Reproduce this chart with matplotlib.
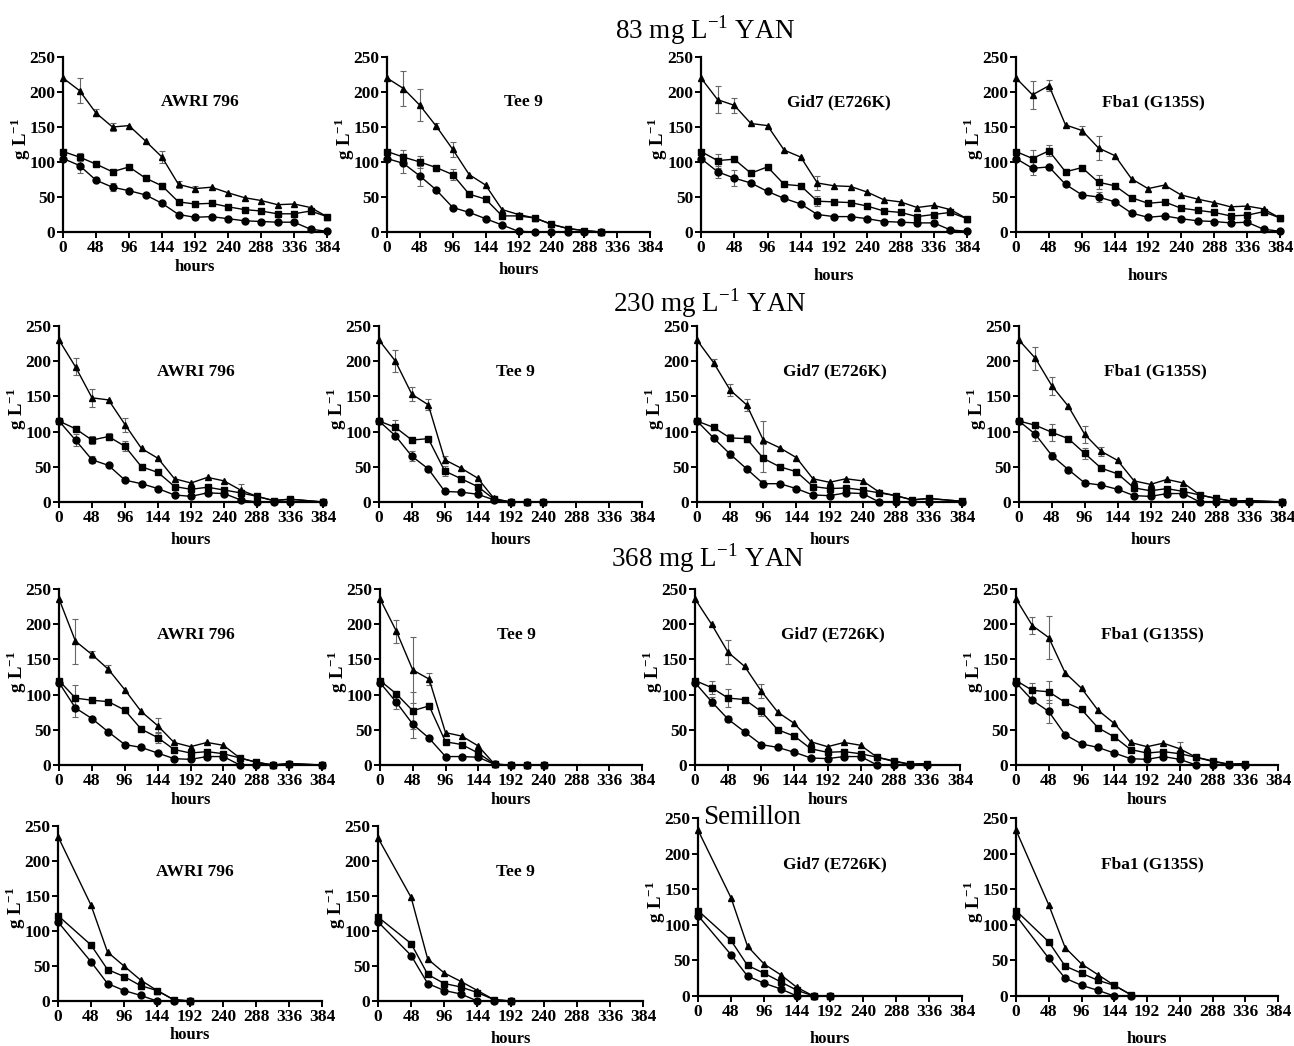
import matplotlib
matplotlib.use("Agg")
import matplotlib.pyplot as plt
import numpy as np

plt.rcParams['font.family'] = ['Liberation Serif', 'DejaVu Serif']
plt.rcParams['mathtext.fontset'] = 'custom'
plt.rcParams['mathtext.rm'] = 'Liberation Serif'
plt.rcParams['mathtext.bf'] = 'Liberation Serif:bold'

# ---------------- data ----------------
strains = ["AWRI 796", "Tee 9", "Gid7 (E726K)", "Fba1 (G135S)"]
sections = ["83 mg L$^{-1}$ YAN", "230 mg L$^{-1}$ YAN", "368 mg L$^{-1}$ YAN", "Semillon"]
xticks = [0, 48, 96, 144, 192, 240, 288, 336, 384]
yticks = [0, 50, 100, 150, 200, 250]

t_full = [0, 24, 48, 72, 96, 120, 144, 168, 192, 216, 240, 264, 288, 312, 336, 360, 384]

# --- 83 mg/L YAN ---
t83_awri = t_full
tri83_awri = [220, 202, 170, 150, 152, 130, 107, 68, 62, 64, 56, 49, 45, 39, 40, 35, 22]
sq83_awri = [115, 107, 97, 86, 93, 77, 66, 43, 40, 41, 36, 32, 30, 26, 26, 30, 22]
ci83_awri = [105, 95, 74, 64, 59, 53, 41, 25, 21, 22, 19, 16, 15, 14, 14, 4, 1]
etri83_awri = [0, 18, 5, 5, 0, 0, 9, 5, 4, 0, 0, 0, 0, 0, 0, 0, 0]
esq83_awri = [0, 6, 0, 0, 0, 0, 4, 0, 0, 0, 0, 0, 0, 0, 0, 0, 0]
eci83_awri = [0, 10, 0, 6, 0, 0, 0, 0, 0, 0, 0, 0, 0, 0, 0, 0, 0]

t83_tee = [0, 24, 48, 72, 96, 120, 144, 168, 192, 216, 240, 264, 288, 312]
tri83_tee = [220, 205, 181, 151, 118, 82, 67, 32, 25, 20, 11, 5, 2, 0]
sq83_tee = [115, 107, 100, 92, 82, 54, 47, 23, 23, 20, 11, 5, 2, 0]
ci83_tee = [105, 98, 80, 60, 35, 28, 19, 10, 1, 0, 0, 0, 0, 0]
etri83_tee = [0, 25, 23, 4, 11, 0, 0, 0, 0, 0, 0, 0, 0, 0]
esq83_tee = [0, 10, 8, 0, 8, 0, 0, 0, 0, 0, 0, 0, 0, 0]
eci83_tee = [0, 13, 14, 0, 0, 0, 0, 0, 0, 0, 0, 0, 0, 0]

t83_gid = t_full
tri83_gid = [220, 189, 181, 155, 152, 117, 107, 70, 66, 65, 57, 46, 43, 35, 38, 32, 19]
sq83_gid = [115, 102, 104, 84, 93, 68, 66, 44, 43, 42, 37, 30, 28, 22, 25, 28, 19]
ci83_gid = [105, 86, 77, 70, 58, 48, 40, 25, 22, 22, 19, 15, 14, 13, 13, 3, 1]
etri83_gid = [0, 19, 11, 0, 0, 0, 0, 10, 0, 0, 0, 0, 0, 0, 0, 0, 0]
esq83_gid = [0, 10, 0, 0, 0, 0, 0, 7, 0, 0, 0, 0, 0, 0, 0, 0, 0]
eci83_gid = [0, 9, 11, 0, 0, 0, 0, 0, 0, 0, 0, 0, 0, 0, 0, 0, 0]

t83_fba = t_full
tri83_fba = [220, 196, 209, 153, 145, 120, 109, 76, 62, 67, 53, 47, 42, 36, 37, 33, 20]
sq83_fba = [115, 105, 116, 86, 92, 71, 66, 49, 41, 43, 34, 31, 28, 23, 24, 29, 20]
ci83_fba = [105, 91, 93, 68, 53, 50, 43, 27, 21, 23, 19, 16, 15, 13, 14, 4, 1]
etri83_fba = [0, 20, 8, 0, 6, 17, 0, 0, 0, 0, 0, 0, 0, 0, 0, 0, 0]
esq83_fba = [0, 12, 8, 0, 0, 10, 0, 0, 0, 0, 0, 0, 0, 0, 0, 0, 0]
eci83_fba = [0, 10, 0, 0, 0, 7, 0, 0, 0, 0, 0, 0, 0, 0, 0, 0, 0]

# --- 230 mg/L YAN ---
t230_awri = [0, 24, 48, 72, 96, 120, 144, 168, 192, 216, 240, 264, 288, 312, 336, 384]
tri230_awri = [230, 192, 148, 145, 110, 76, 62, 33, 27, 35, 30, 17, 8, 2, 4, 0]
sq230_awri = [115, 104, 88, 93, 79, 50, 42, 22, 18, 21, 17, 13, 8, 2, 4, 0]
ci230_awri = [115, 88, 60, 52, 31, 26, 19, 10, 8, 13, 12, 3, 0, 0, 0, 0]
etri230_awri = [0, 12, 13, 0, 10, 0, 0, 0, 0, 0, 0, 8, 0, 0, 0, 0]
esq230_awri = [0, 0, 6, 5, 7, 0, 0, 0, 0, 0, 0, 0, 0, 0, 0, 0]
eci230_awri = [0, 9, 5, 0, 0, 0, 0, 0, 0, 0, 0, 0, 0, 0, 0, 0]

t230_tee = [0, 24, 48, 72, 96, 120, 144, 168, 192, 216, 240]
tri230_tee = [230, 200, 153, 138, 60, 48, 34, 5, 0, 0, 0]
sq230_tee = [115, 106, 88, 90, 44, 33, 22, 4, 0, 0, 0]
ci230_tee = [115, 94, 65, 47, 15, 14, 11, 3, 0, 0, 0]
etri230_tee = [0, 16, 10, 8, 5, 0, 0, 0, 0, 0, 0]
esq230_tee = [0, 10, 0, 0, 7, 0, 0, 0, 0, 0, 0]
eci230_tee = [0, 0, 7, 0, 0, 0, 0, 0, 0, 0, 0]

t230_gid = [0, 24, 48, 72, 96, 120, 144, 168, 192, 216, 240, 264, 288, 312, 336, 384]
tri230_gid = [230, 198, 159, 138, 88, 77, 63, 33, 28, 33, 30, 14, 9, 3, 5, 1]
sq230_gid = [115, 106, 91, 90, 62, 50, 43, 22, 19, 20, 17, 13, 9, 3, 5, 1]
ci230_gid = [115, 91, 68, 47, 26, 26, 19, 10, 9, 13, 12, 0, 0, 0, 0, 0]
etri230_gid = [0, 5, 9, 9, 27, 0, 0, 0, 0, 0, 0, 0, 0, 0, 0, 0]
esq230_gid = [0, 0, 5, 5, 20, 0, 0, 0, 0, 0, 0, 0, 0, 0, 0, 0]
eci230_gid = [0, 0, 5, 0, 5, 0, 0, 0, 0, 0, 0, 0, 0, 0, 0, 0]

t230_fba = [0, 24, 48, 72, 96, 120, 144, 168, 192, 216, 240, 264, 288, 312, 336, 384]
tri230_fba = [230, 204, 165, 136, 96, 72, 59, 30, 25, 32, 27, 10, 5, 1, 2, 0]
sq230_fba = [115, 109, 99, 90, 69, 48, 40, 20, 16, 19, 15, 10, 5, 1, 2, 0]
ci230_fba = [115, 96, 66, 46, 27, 24, 18, 9, 8, 12, 12, 0, 0, 0, 0, 0]
etri230_fba = [0, 16, 13, 0, 12, 6, 0, 0, 0, 0, 0, 0, 0, 0, 0, 0]
esq230_fba = [0, 0, 12, 0, 8, 0, 0, 0, 0, 0, 0, 0, 0, 0, 0, 0]
eci230_fba = [0, 10, 5, 0, 0, 0, 0, 0, 0, 0, 0, 0, 0, 0, 0, 0]

# --- 368 mg/L YAN ---
t368_awri = [0, 24, 48, 72, 96, 120, 144, 168, 192, 216, 240, 264, 288, 312, 336, 384]
tri368_awri = [236, 176, 157, 136, 107, 76, 56, 32, 26, 32, 28, 10, 4, 0, 2, 0]
sq368_awri = [120, 95, 92, 90, 78, 51, 39, 22, 17, 19, 16, 10, 4, 0, 2, 0]
ci368_awri = [117, 81, 66, 47, 29, 25, 17, 9, 8, 12, 12, 0, 0, 0, 1, 0]
etri368_awri = [0, 32, 5, 6, 0, 0, 11, 0, 0, 0, 0, 0, 0, 0, 0, 0]
esq368_awri = [0, 18, 0, 0, 0, 0, 8, 0, 0, 0, 0, 0, 0, 0, 0, 0]
eci368_awri = [0, 13, 0, 0, 0, 0, 0, 0, 0, 0, 0, 0, 0, 0, 0, 0]

t368_tee = [0, 24, 48, 72, 96, 120, 144, 168, 192, 216, 240]
tri368_tee = [236, 190, 135, 122, 46, 41, 27, 1, 0, 0, 0]
sq368_tee = [120, 101, 77, 84, 33, 29, 17, 1, 0, 0, 0]
ci368_tee = [117, 89, 58, 38, 12, 12, 11, 1, 0, 0, 0]
etri368_tee = [0, 16, 47, 8, 0, 0, 0, 0, 0, 0, 0]
esq368_tee = [0, 0, 26, 4, 0, 0, 0, 0, 0, 0, 0]
eci368_tee = [0, 10, 19, 0, 0, 0, 0, 0, 0, 0, 0]

t368_gid = [0, 24, 48, 72, 96, 120, 144, 168, 192, 216, 240, 264, 288, 312, 336]
tri368_gid = [236, 200, 160, 140, 105, 75, 59, 33, 26, 32, 28, 11, 5, 1, 2]
sq368_gid = [120, 110, 95, 93, 76, 50, 41, 23, 18, 19, 16, 11, 6, 1, 2]
ci368_gid = [117, 90, 65, 47, 29, 25, 18, 10, 9, 12, 12, 0, 0, 0, 0]
etri368_gid = [0, 0, 17, 0, 10, 0, 0, 0, 0, 0, 0, 0, 0, 0, 0]
esq368_gid = [0, 9, 13, 0, 6, 0, 0, 0, 0, 0, 0, 0, 0, 0, 0]
eci368_gid = [0, 6, 4, 0, 0, 0, 0, 0, 0, 0, 0, 0, 0, 0, 0]

t368_fba = [0, 24, 48, 72, 96, 120, 144, 168, 192, 216, 240, 264, 288, 312, 336]
tri368_fba = [236, 198, 181, 131, 109, 78, 59, 32, 26, 31, 23, 11, 5, 1, 2]
sq368_fba = [120, 106, 104, 89, 79, 53, 40, 22, 17, 19, 16, 11, 6, 1, 2]
ci368_fba = [117, 92, 76, 43, 30, 25, 17, 9, 8, 12, 8, 0, 0, 0, 0]
etri368_fba = [0, 12, 31, 0, 0, 0, 0, 0, 0, 0, 10, 0, 0, 0, 0]
esq368_fba = [0, 11, 16, 0, 0, 0, 0, 0, 0, 0, 0, 0, 0, 0, 0]
eci368_fba = [0, 0, 16, 0, 0, 0, 0, 0, 0, 0, 0, 0, 0, 0, 0]

# --- Semillon ---
tsem_awri = [0, 48, 72, 96, 120, 144, 168, 192]
trisem_awri = [235, 137, 70, 50, 30, 15, 2, 0]
sqsem_awri = [122, 80, 45, 35, 22, 15, 2, 0]
cisem_awri = [113, 56, 25, 15, 8, 0, 0, 0]

tsem_tee = [0, 48, 72, 96, 120, 144, 168, 192]
trisem_tee = [233, 148, 60, 40, 28, 15, 2, 0]
sqsem_tee = [120, 82, 38, 25, 20, 12, 2, 0]
cisem_tee = [113, 65, 25, 15, 10, 0, 0, 0]

tsem_gid = [0, 48, 72, 96, 120, 144, 168, 192]
trisem_gid = [233, 138, 70, 45, 30, 12, 0, 0]
sqsem_gid = [120, 78, 43, 32, 20, 8, 0, 0]
cisem_gid = [113, 58, 28, 18, 10, 0, 0, 0]

tsem_fba = [0, 48, 72, 96, 120, 144, 168]
trisem_fba = [233, 128, 68, 45, 30, 15, 2]
sqsem_fba = [120, 76, 42, 32, 22, 15, 2]
cisem_fba = [113, 53, 25, 15, 8, 0, 0]

panels = [
    [(t83_awri, tri83_awri, sq83_awri, ci83_awri, etri83_awri, esq83_awri, eci83_awri),
     (t83_tee, tri83_tee, sq83_tee, ci83_tee, etri83_tee, esq83_tee, eci83_tee),
     (t83_gid, tri83_gid, sq83_gid, ci83_gid, etri83_gid, esq83_gid, eci83_gid),
     (t83_fba, tri83_fba, sq83_fba, ci83_fba, etri83_fba, esq83_fba, eci83_fba)],
    [(t230_awri, tri230_awri, sq230_awri, ci230_awri, etri230_awri, esq230_awri, eci230_awri),
     (t230_tee, tri230_tee, sq230_tee, ci230_tee, etri230_tee, esq230_tee, eci230_tee),
     (t230_gid, tri230_gid, sq230_gid, ci230_gid, etri230_gid, esq230_gid, eci230_gid),
     (t230_fba, tri230_fba, sq230_fba, ci230_fba, etri230_fba, esq230_fba, eci230_fba)],
    [(t368_awri, tri368_awri, sq368_awri, ci368_awri, etri368_awri, esq368_awri, eci368_awri),
     (t368_tee, tri368_tee, sq368_tee, ci368_tee, etri368_tee, esq368_tee, eci368_tee),
     (t368_gid, tri368_gid, sq368_gid, ci368_gid, etri368_gid, esq368_gid, eci368_gid),
     (t368_fba, tri368_fba, sq368_fba, ci368_fba, etri368_fba, esq368_fba, eci368_fba)],
    [(tsem_awri, trisem_awri, sqsem_awri, cisem_awri, None, None, None),
     (tsem_tee, trisem_tee, sqsem_tee, cisem_tee, None, None, None),
     (tsem_gid, trisem_gid, sqsem_gid, cisem_gid, None, None, None),
     (tsem_fba, trisem_fba, sqsem_fba, cisem_fba, None, None, None)],
]

# ---------------- layout (pixels) ----------------
W, H = 1294, 1046
fig = plt.figure(figsize=(W / 100, H / 100), dpi=100)

rows_y = [(232, 57), (502, 326), (765, 589), (1001, 826)]
cols_x = [
    [(63, 327), (387, 650), (701, 967), (1016, 1280)],
    [(59, 323), (379, 642), (697, 962), (1019, 1282)],
    [(59, 322), (380, 642), (695, 960), (1016, 1278)],
    [(58, 322), (378, 643), (698, 962), (1016, 1278)],
]
row4_y34 = (996, 818)
hours_y = [[267, 270, 276, 276], [540, 540, 540, 540], [800, 800, 800, 800], [1035, 1039, 1039, 1039]]
section_pos = [(705, 30), (710, 303), (708, 558), (752, 818)]

fs_tick = 12.5
for r in range(4):
    for c in range(4):
        x0, x1 = cols_x[r][c]
        y0, y1 = rows_y[r]
        if r == 3 and c >= 2:
            y0, y1 = row4_y34
        ax = fig.add_axes([x0 / W, 1 - y0 / H, (x1 - x0) / W, (y0 - y1) / H])
        t, tri, sq, ci, etri, esq, eci = panels[r][c]
        for vals, errs, mk, ms in [(tri, etri, '^', 5), (sq, esq, 's', 5), (ci, eci, 'o', 5)]:
            ax.plot(t, vals, color='black', lw=1.0, marker=mk, ms=ms, zorder=3, clip_on=False)
            if errs is not None:
                tt = [ti for ti, e in zip(t, errs) if e > 0]
                vv = [v for v, e in zip(vals, errs) if e > 0]
                ee = [e for e in errs if e > 0]
                if tt:
                    ax.errorbar(tt, vv, yerr=ee, fmt='none', ecolor='#666666',
                                elinewidth=0.8, capsize=2, capthick=0.8, zorder=2)
        ax.set_xlim(0, 384)
        ax.set_ylim(0, 250)
        ax.set_xticks(xticks)
        ax.set_yticks(yticks)
        for s in ['top', 'right']:
            ax.spines[s].set_visible(False)
        for s in ['left', 'bottom']:
            ax.spines[s].set_linewidth(1.6)
        ax.tick_params(axis='both', direction='out', length=4, width=1.4,
                       labelsize=fs_tick, pad=1.5)
        for lab in ax.get_xticklabels() + ax.get_yticklabels():
            lab.set_fontweight('bold')
        ax.set_ylabel("g L$^{\\mathbf{-1}}$", fontsize=13.5, fontweight='bold')
        ax.yaxis.set_label_coords(-0.115, 0.53)
        ax.set_xlabel("hours", fontsize=12, fontweight='bold', va='center')
        ax.xaxis.set_label_coords(0.5, -(hours_y[r][c] - y0) / (y0 - y1))
        ax.text(0.52, 0.74, strains[c], transform=ax.transAxes, ha='center', va='center',
                fontsize=12.5, fontweight='bold')

for (sx, sy), s in zip(section_pos, sections):
    fig.text(sx / W, 1 - sy / H, s, ha='center', va='center', fontsize=19.5)

fig.savefig("out.png", dpi=100)
